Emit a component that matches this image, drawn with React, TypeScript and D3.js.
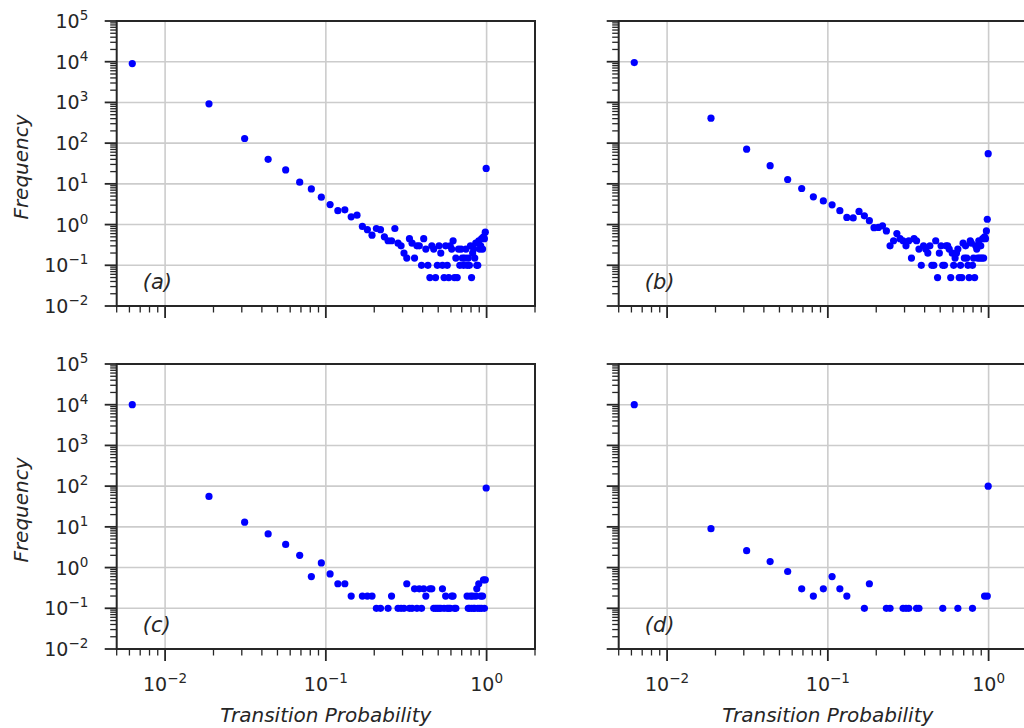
import React from "react";
import * as d3 from "d3";

// Bin centres of transition probability (80 bins on [0,1])
const transitionProb = [
  0.00625, 0.01875, 0.03125, 0.04375, 0.05625, 0.06875, 0.08125, 0.09375, 0.10625, 0.11875,
  0.13125, 0.14375, 0.15625, 0.16875, 0.18125, 0.19375, 0.20625, 0.21875, 0.23125, 0.24375,
  0.25625, 0.26875, 0.28125, 0.29375, 0.30625, 0.31875, 0.33125, 0.34375, 0.35625, 0.36875,
  0.38125, 0.39375, 0.40625, 0.41875, 0.43125, 0.44375, 0.45625, 0.46875, 0.48125, 0.49375,
  0.50625, 0.51875, 0.53125, 0.54375, 0.55625, 0.56875, 0.58125, 0.59375, 0.60625, 0.61875,
  0.63125, 0.64375, 0.65625, 0.66875, 0.68125, 0.69375, 0.70625, 0.71875, 0.73125, 0.74375,
  0.75625, 0.76875, 0.78125, 0.79375, 0.80625, 0.81875, 0.83125, 0.84375, 0.85625, 0.86875,
  0.88125, 0.89375, 0.90625, 0.91875, 0.93125, 0.94375, 0.95625, 0.96875, 0.98125, 0.99375,
];

const freqA = [
  9000, 925, 130, 40, 22, 11, 7.5, 4.7, 3.1, 2.2,
  2.3, 1.55, 1.7, 0.9, 0.75, 0.55, 0.8, 0.75, 0.5, 0.4,
  0.4, 0.8, 0.35, 0.3, 0.2, 0.15, 0.45, 0.35, 0.15, 0.3,
  0.3, 0.1, 0.45, 0.25, 0.1, 0.05, 0.3, 0.25, 0.05, 0.1,
  0.3, 0.2, 0.1, 0.05, 0.3, 0.1, 0.05, 0.3, 0.25, 0.4,
  0.05, 0.15, 0.05, 0.25, 0.1, 0.25, 0.15, 0.1, 0.15, 0.25,
  0.1, 0.15, 0.1, 0.3, 0.05, 0.2, 0.25, 0.15, 0.35, 0.1,
  0.1, 0.4, 0.25, 0.3, 0.45, 0.25, 0.5, 0.45, 0.65, 24,
];

const freqB = [
  9500, 410, 71, 28, 12.8, 7.7, 4.8, 3.8, 3.05, 2.2,
  1.5, 1.46, 2.1, 1.64, 1.25, 0.84, 0.85, 0.93, 0.7, 0.3,
  0.4, 0.6, 0.45, 0.4, 0.3, 0.4, 0.15, 0.45, 0.4, 0.25,
  0.1, 0.3, 0.25, 0.2, 0.3, 0.1, 0.1, 0.4, 0.05, 0.2,
  0.3, 0.1, 0.1, 0.3, 0.3, 0.25, 0.05, 0.2, 0.1, 0.15,
  0.2, 0.25, 0.05, 0.1, 0.05, 0.35, 0.15, 0.3, 0.15, 0.1,
  0.05, 0.4, 0.35, 0.1, 0.15, 0.05, 0.3, 0.25, 0.15, 0.4,
  0.15, 0.3, 0.15, 0.45, 0.15, 0.5, 0.45, 0.7, 1.35, 55,
];

const freqC = [
  10000, 56, 13, 6.7, 3.7, 2.0, 0.6, 1.3, 0.7, 0.4,
  0.4, 0.2, null, 0.2, 0.2, 0.2, 0.1, 0.1, null, 0.1,
  0.2, null, 0.1, 0.1, 0.1, 0.4, 0.1, 0.1, 0.3, 0.1,
  0.3, 0.1, 0.3, 0.2, null, 0.3, 0.3, 0.1, 0.1, 0.1,
  0.1, 0.1, 0.3, 0.1, 0.2, 0.1, 0.1, 0.1, 0.2, 0.2,
  0.1, 0.1, null, null, null, null, null, null, null, null,
  0.2, 0.1, 0.1, 0.2, 0.1, 0.2, 0.1, 0.1, 0.2, 0.3,
  0.1, 0.4, 0.1, 0.2, 0.1, 0.2, 0.5, 0.1, 0.5, 90,
];

const freqD = [
  10000, 9, 2.6, 1.4, 0.8, 0.3, 0.2, 0.3, 0.6, 0.3,
  0.2, null, null, 0.1, 0.4, null, null, null, 0.1, 0.1,
  null, null, null, 0.1, 0.1, 0.1, null, null, 0.1, 0.1,
  null, null, null, null, null, null, null, null, null, null,
  null, 0.1, null, null, null, null, null, null, null, null,
  null, 0.1, null, null, null, null, null, null, null, null,
  null, null, null, 0.1, null, null, null, null, null, null,
  null, null, null, null, null, 0.2, null, null, 0.2, 100,
];

const panelLabels = ["(a)", "(b)", "(c)", "(d)"];
const xAxisTitle = "Transition Probability";
const yAxisTitle = "Frequency";
const xDomain = [0.005, 2];
const yDomain = [0.01, 1e5];

const W = 1024;
const H = 728;
const PW = 418.3;
const PH = 285;
const INK = "#262626";
const FONT = "'DejaVu Sans', sans-serif";

const panels = [
  { left: 116.7, top: 21, data: freqA, label: panelLabels[0], yLab: true, xLab: false },
  { left: 618.7, top: 21, data: freqB, label: panelLabels[1], yLab: false, xLab: false },
  { left: 116.7, top: 364, data: freqC, label: panelLabels[2], yLab: true, xLab: true },
  { left: 618.7, top: 364, data: freqD, label: panelLabels[3], yLab: false, xLab: true },
];

const isMajor = (v: number) => Math.abs(Math.log10(v) - Math.round(Math.log10(v))) < 1e-6;
const expText = (v: number) => {
  const e = Math.round(Math.log10(v));
  return e < 0 ? "\u2212" + Math.abs(e) : String(e);
};

function Panel({ p }: { p: any }) {
  const x = d3.scaleLog().domain(xDomain).range([p.left, p.left + PW]);
  const y = d3.scaleLog().domain(yDomain).range([p.top + PH, p.top]);
  const xt = x.ticks();
  const yt = y.ticks();
  const bottom = p.top + PH;
  const right = p.left + PW;
  const pts = transitionProb
    .map((t, i) => ({ t, f: p.data[i] }))
    .filter((d) => d.f != null && d.f > 0);
  const tickFs = 19;
  const supFs = 13.5;
  return (
    <g>
      {/* grid */}
      {xt.filter(isMajor).map((v, i) => (
        <line key={"gx" + i} x1={x(v)} x2={x(v)} y1={p.top} y2={bottom} stroke="#cccccc" strokeWidth={1.6} />
      ))}
      {yt.filter(isMajor).map((v, i) => (
        <line key={"gy" + i} x1={p.left} x2={right} y1={y(v)} y2={y(v)} stroke="#cccccc" strokeWidth={1.6} />
      ))}
      {/* points */}
      {pts.map((d, i) => (
        <circle key={"pt" + i} cx={x(d.t)} cy={y(d.f)} r={3.6} fill="#0000ff" />
      ))}
      {/* spines */}
      <rect x={p.left} y={p.top} width={PW} height={PH} fill="none" stroke={INK} strokeWidth={2} />
      {/* x ticks */}
      {xt.map((v, i) => {
        const maj = isMajor(v);
        return (
          <line key={"xt" + i} x1={x(v)} x2={x(v)} y1={bottom} y2={bottom + (maj ? 12 : 6.5)}
            stroke={INK} strokeWidth={maj ? 1.8 : 1.3} />
        );
      })}
      {/* y ticks */}
      {yt.map((v, i) => {
        const maj = isMajor(v);
        return (
          <line key={"yt" + i} x1={p.left} x2={p.left - (maj ? 12 : 6.5)} y1={y(v)} y2={y(v)}
            stroke={INK} strokeWidth={maj ? 1.8 : 1.3} />
        );
      })}
      {/* y tick labels */}
      {p.yLab &&
        yt.filter(isMajor).map((v, i) => (
          <text key={"yl" + i} x={p.left - 28.4} y={y(v) + 7} textAnchor="end" fontFamily={FONT}
            fontSize={tickFs} fill={INK}>
            <tspan>10</tspan>
            <tspan dy={-8} fontSize={supFs}>{expText(v)}</tspan>
          </text>
        ))}
      {/* x tick labels */}
      {p.xLab &&
        xt.filter(isMajor).map((v, i) => (
          <text key={"xl" + i} x={x(v)} y={bottom + 41.7} textAnchor="middle" fontFamily={FONT}
            fontSize={tickFs} fill={INK}>
            <tspan>10</tspan>
            <tspan dy={-8} fontSize={supFs}>{expText(v)}</tspan>
          </text>
        ))}
      {/* axis titles */}
      {p.xLab && (
        <text x={p.left + PW / 2} y={bottom + 73} textAnchor="middle" fontFamily={FONT} fontSize={20}
          fontStyle="italic" fill={INK}>
          {xAxisTitle}
        </text>
      )}
      {p.yLab && (
        <text transform={`translate(28,${p.top + PH / 2 + 3.5}) rotate(-90)`} textAnchor="middle"
          fontFamily={FONT} fontSize={20} fontStyle="italic" fill={INK}>
          {yAxisTitle}
        </text>
      )}
      {/* panel label */}
      <text x={p.left + 26} y={bottom - 17} fontFamily={FONT} fontSize={21} fontStyle="italic" fill={INK}>
        {p.label}
      </text>
    </g>
  );
}

export default function App() {
  return (
    <svg width={W} height={H} viewBox={`0 0 ${W} ${H}`}
      style={{ position: "absolute", left: 0, top: 0, background: "#ffffff" }}>
      <rect x={0} y={0} width={W} height={H} fill="#ffffff" />
      {panels.map((p, i) => (
        <Panel key={i} p={p} />
      ))}
    </svg>
  );
}
